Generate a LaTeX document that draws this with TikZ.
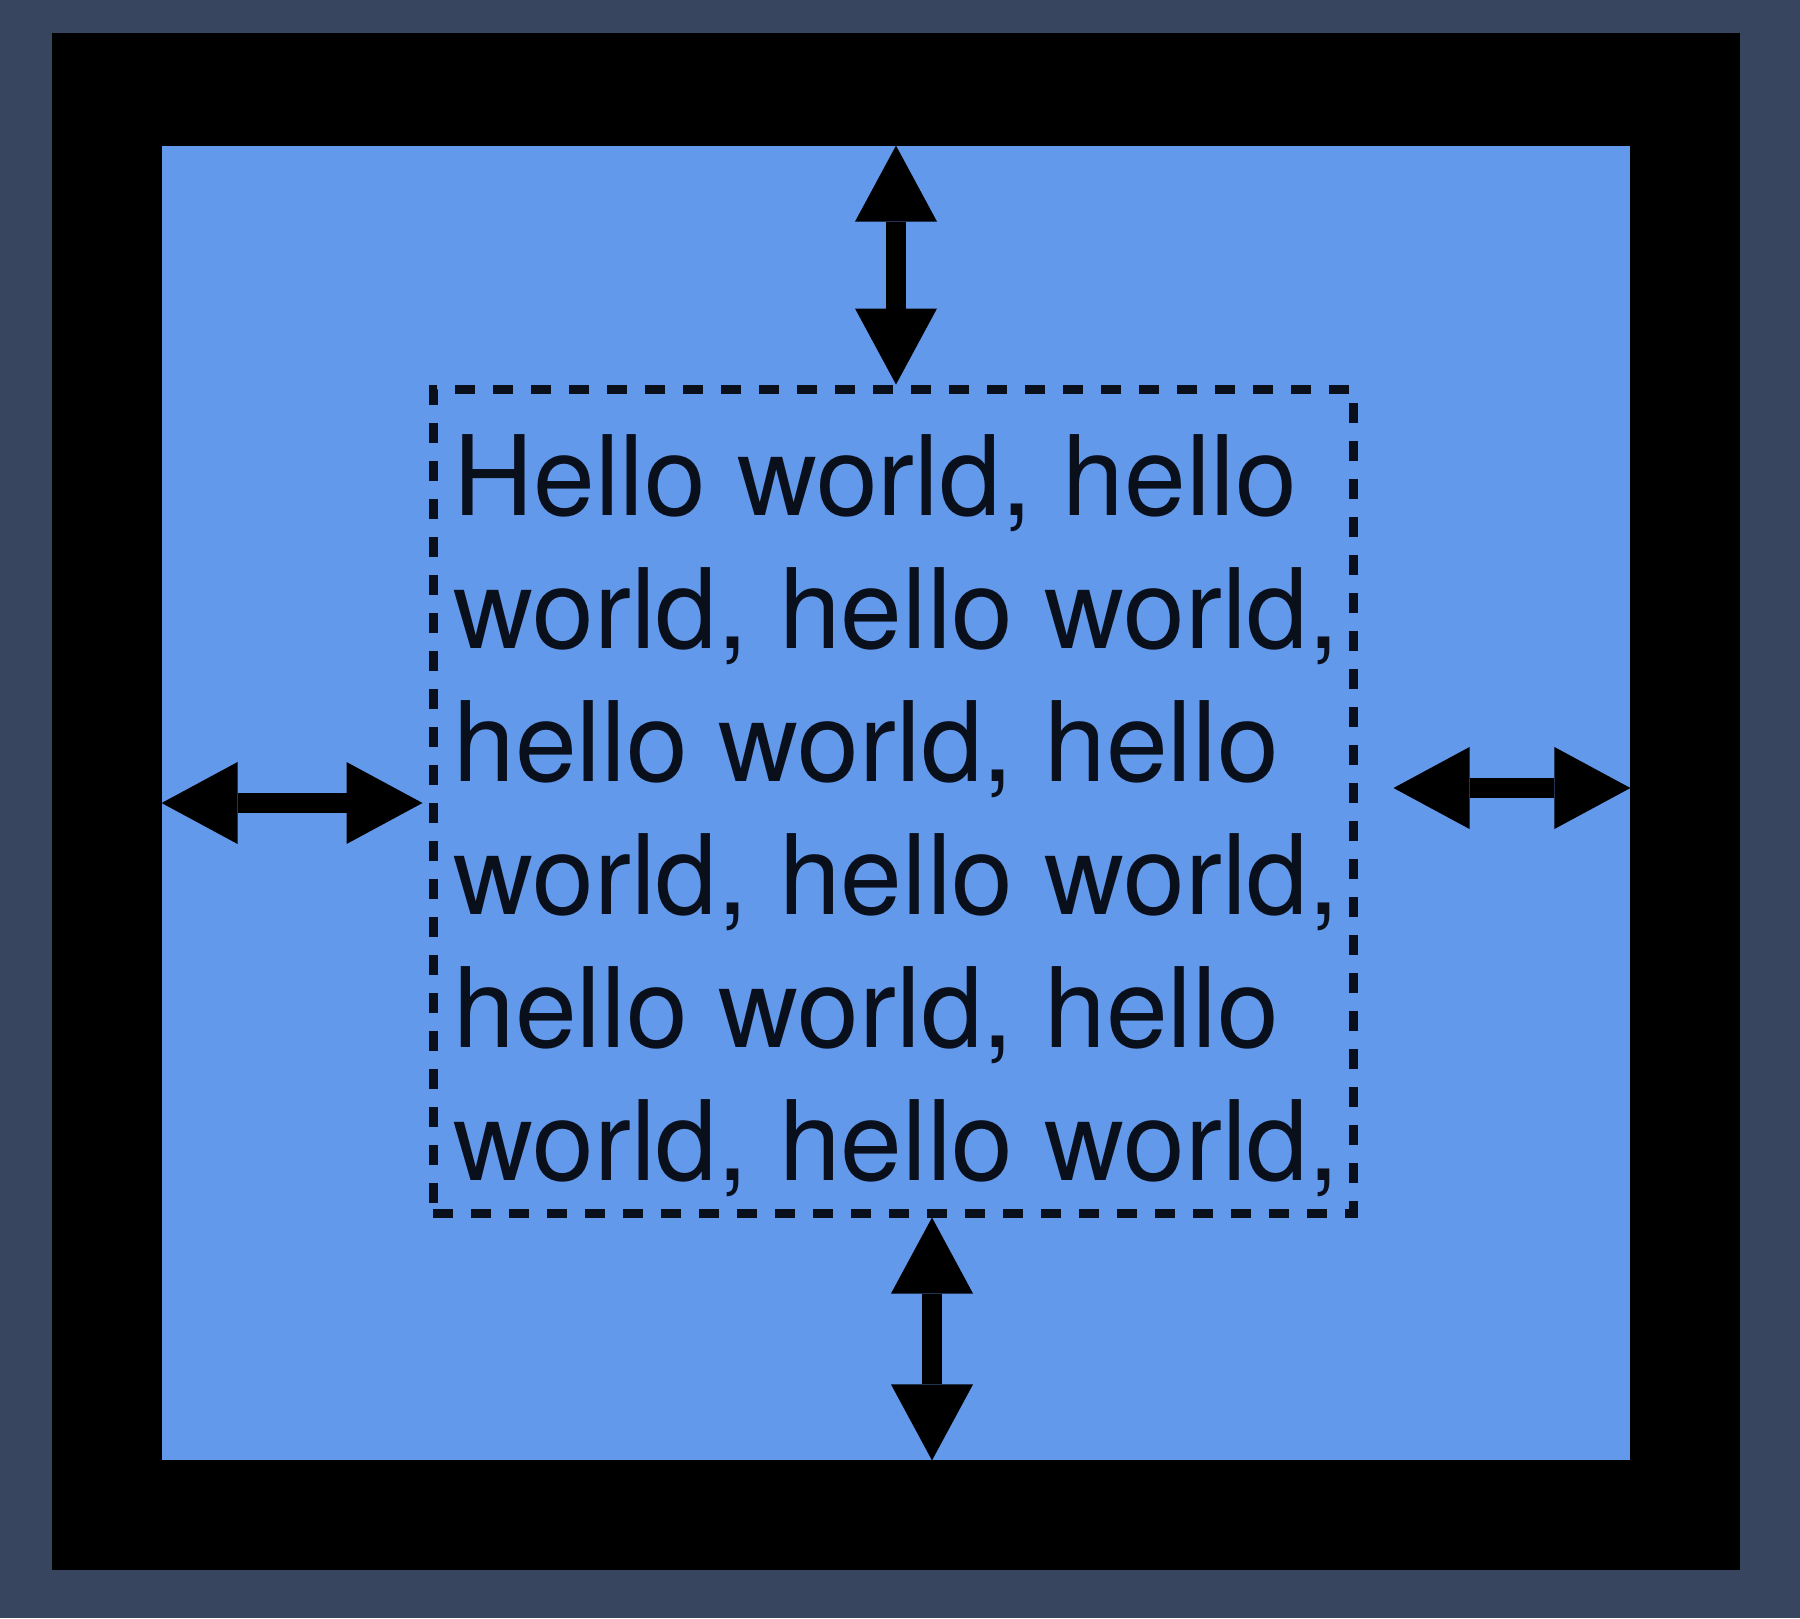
\documentclass[tikz,border=0pt]{standalone}
\usepackage{fontspec}
\setsansfont{TeX Gyre Heros}
\usetikzlibrary{arrows.meta}
\definecolor{slate}{HTML}{38455E}
\definecolor{padblue}{HTML}{6399EB}
\definecolor{ink}{HTML}{0A0F1C}
\tikzset{
  dblarrow/.style={line width=10pt, {Triangle[width=41pt, length=38pt, line width=0pt]}-{Triangle[width=41pt, length=38pt, line width=0pt]}},
  frame/.style={fill=black, inner sep=0pt, minimum width=844pt, minimum height=768.5pt},
  pad/.style={fill=padblue, inner sep=0pt, minimum width=734pt, minimum height=657pt},
  contentbox/.style={draw=ink, line width=4.5pt, dash pattern=on 10pt off 9pt, inner sep=0pt, minimum width=460pt, minimum height=412pt},
}
\begin{document}
\begin{tikzpicture}[x=0.5pt, y=-0.5pt]
  \useasboundingbox (0,0) rectangle (1800,1618);
  \fill[slate] (0,0) rectangle (1800,1618);
  \node[frame] (frame) at (896,801.5) {};
  \node[pad] (pad) at (896,803) {};
  \node[contentbox] (box) at (893,801) {};
  \node[anchor=base west, align=left, inner sep=0pt, text=ink,
        font={\sffamily\fontsize{55.5pt}{66.5pt}\selectfont}] (txt) at (453,1180)
    {Hello world, hello\\ world, hello world,\\ hello world, hello\\ world, hello world,\\ hello world, hello\\ world, hello world,};
  % margins
  \draw[dblarrow] (pad.north) -- (pad.north |- box.north);
  \draw[dblarrow] ([xshift=19.5pt]box.south) -- ([xshift=19.5pt]box.south |- pad.south);
  \draw[dblarrow] (pad.west) -- ([xshift=-3pt]pad.west -| box.west);
  \draw[dblarrow] ([yshift=6.5pt, xshift=18pt]box.east) -- ([yshift=6.5pt]box.east -| pad.east);
\end{tikzpicture}
\end{document}
